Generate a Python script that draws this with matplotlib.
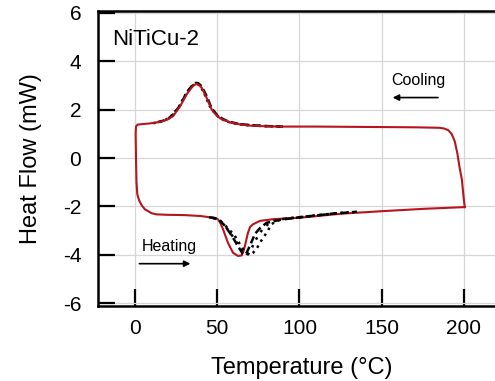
import matplotlib
matplotlib.use('Agg')
import matplotlib.pyplot as plt

plt.rcParams['font.family'] = ['Liberation Sans', 'DejaVu Sans']
plt.rcParams['axes.unicode_minus'] = False

# red loop: cooling along the top (200 -> 0), then heating along the bottom (0 -> 200)
red_T = [200.5, 199.8, 198.8, 197.4, 196, 194.4, 192.5, 190.5, 188, 185, 170, 150, 130, 110, 90, 80, 70,
         63.8, 58, 55.7, 52, 49.6, 46.6, 43.5, 40.5, 38.5, 37.5, 36, 34.4, 31.4, 27.5, 23.3, 20, 17.2, 13, 9,
         4, 1.5, 0.6, 0.4, 0.6, 0.9, 1.4, 2.5, 4, 6, 8, 10, 13, 20, 30, 40, 47.4, 50.4, 52, 53.5, 56.5, 59.6,
         62.6, 64.8, 66, 66.8, 68.7, 70, 71.8, 76, 84, 100, 126, 150, 176, 200.5]
red_H = [-2.03, -1.6, -0.9, -0.4, 0.2, 0.7, 1.0, 1.15, 1.22, 1.25, 1.27, 1.28, 1.29, 1.3, 1.3, 1.31, 1.34,
         1.39, 1.47, 1.53, 1.63, 1.76, 2.01, 2.5, 2.91, 3.04, 3.06, 3.02, 2.91, 2.63, 2.15, 1.74, 1.6, 1.53,
         1.47, 1.43, 1.4, 1.38, 1.3, 1.0, 0.0, -1.0, -1.5, -1.75, -1.95, -2.12, -2.2, -2.28, -2.33, -2.35,
         -2.36, -2.4, -2.47, -2.53, -2.7, -2.94, -3.5, -3.92, -4.05, -4.03, -3.85, -3.64, -3.09, -2.85, -2.74,
         -2.6, -2.53, -2.47, -2.3, -2.2, -2.1, -2.03]

# black cycles, cooling peak
cool1_T = [90, 80, 70, 63, 58, 55, 52, 49.5, 46.5, 43.5, 40.5, 38.5, 37, 35.5, 34, 31, 27.5, 23, 20, 17, 13]
cool1_H = [1.3, 1.32, 1.36, 1.41, 1.49, 1.56, 1.67, 1.81, 2.07, 2.57, 2.97, 3.09, 3.11, 3.04, 2.94, 2.65,
           2.18, 1.78, 1.62, 1.54, 1.47]
cool2_T = [88, 78, 68, 62, 57, 54, 51, 48.5, 45.5, 42.5, 40, 38, 36.5, 35, 33, 30, 26.5, 22, 19, 15, 11]
cool2_H = [1.3, 1.32, 1.36, 1.41, 1.49, 1.57, 1.69, 1.85, 2.14, 2.61, 2.95, 3.07, 3.07, 2.99, 2.85, 2.54,
           2.09, 1.74, 1.59, 1.49, 1.44]

# black cycles, heating peak
heat1_T = [45, 50, 52, 54.7, 58.7, 62.6, 65.6, 66.8, 68, 69.8, 72.9, 76, 80, 88, 100, 110, 120, 130, 135]
heat1_H = [-2.45, -2.5, -2.62, -2.8, -3.2, -3.64, -3.97, -4.0, -3.9, -3.64, -3.14, -2.9, -2.68, -2.56,
           -2.45, -2.38, -2.3, -2.25, -2.22]
heat2_T = [48, 52, 55, 57, 60, 62, 65, 67.8, 70, 71.8, 74, 76, 78, 80, 83, 86, 90, 100, 110, 120, 130]
heat2_H = [-2.48, -2.6, -2.8, -2.95, -3.15, -3.36, -3.7, -3.95, -4.0, -3.92, -3.75, -3.5, -3.3, -3.09,
           -2.74, -2.6, -2.52, -2.45, -2.37, -2.3, -2.24]
heat3_T = [47, 51, 54, 56, 59, 61.5, 64.5, 67, 68.8, 70.5, 72.5, 75, 78, 82, 86, 92, 100, 112, 125]
heat3_H = [-2.47, -2.56, -2.75, -2.92, -3.2, -3.45, -3.78, -3.98, -3.98, -3.8, -3.5, -3.2, -2.9, -2.68,
           -2.57, -2.5, -2.45, -2.36, -2.27]

xticks = [0, 50, 100, 150, 200]
yticks = [-6, -4, -2, 0, 2, 4, 6]

fig = plt.figure(figsize=(4.95, 3.81), dpi=100)
ax = fig.add_axes([98 / 495, 75 / 381, 407 / 495, 295 / 381])

ax.plot(cool1_T, cool1_H, color='black', lw=1.8, ls=(0, (3, 1.5)), zorder=3)
ax.plot(cool2_T, cool2_H, color='black', lw=1.8, ls=(0, (1, 1.5)), zorder=3)
ax.plot(red_T, red_H, color='#b8141c', lw=1.5, zorder=4)
ax.plot(heat1_T, heat1_H, color='black', lw=1.8, ls=(0, (3, 1.5)), zorder=5)
ax.plot(heat2_T, heat2_H, color='black', lw=1.8, ls=(0, (1, 1.8)), zorder=5)
ax.plot(heat3_T, heat3_H, color='black', lw=1.8, ls=(0, (1, 2.5)), zorder=5)

ax.set_xlim(-22.5, 225)
ax.set_ylim(-6.12, 6.08)
ax.set_xticks(xticks)
ax.set_yticks(yticks)
ax.grid(True, color='#d6d6d6', lw=0.9, zorder=0)
ax.set_axisbelow(True)

ax.tick_params(direction='in', length=12, width=1.6, labelsize=15)
ax.tick_params(axis='y', pad=12)
ax.tick_params(axis='x', pad=9)
for s in ax.spines.values():
    s.set_linewidth(1.8)

ax.set_xlabel('Temperature (°C)', fontsize=17, labelpad=14)
ax.set_ylabel('Heat Flow (mW)', fontsize=17, labelpad=15)

ax.text(-14, 4.9, 'NiTiCu-2', fontsize=16, va='center', ha='left')
ax.text(172.5, 3.19, 'Cooling', fontsize=11.5, ha='center', va='center')
ax.annotate('', xy=(155, 2.5), xytext=(186, 2.5),
            arrowprops=dict(arrowstyle='-|>', color='black', lw=1.2, mutation_scale=9))
ax.text(20.7, -3.64, 'Heating', fontsize=11.5, ha='center', va='center')
ax.annotate('', xy=(35.4, -4.37), xytext=(1, -4.37),
            arrowprops=dict(arrowstyle='-|>', color='black', lw=1.2, mutation_scale=9))

fig.savefig('out.png', dpi=100)
